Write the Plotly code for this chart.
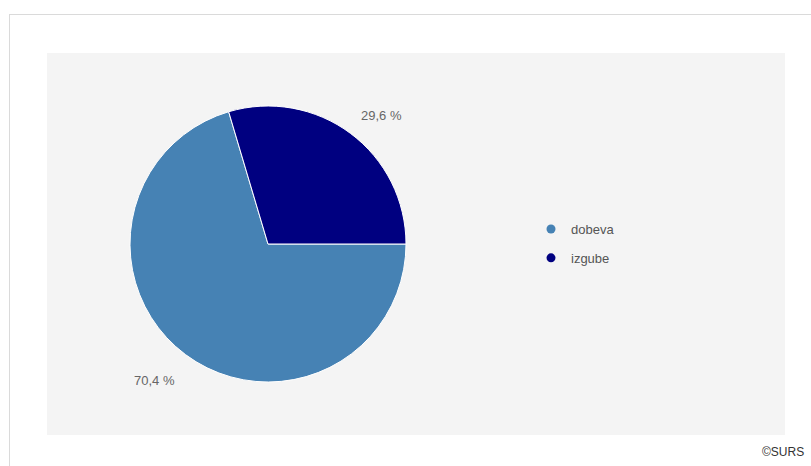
import math
import plotly.graph_objects as go

W, H = 811, 466
labels = ["dobeva", "izgube"]
values = [70.4, 29.6]
colors = ["#4682B4", "#000080"]
texts = [f"{v:.1f}".replace(".", ",") + " %" for v in values]

FONT = "Arial, Liberation Sans, sans-serif"
cx, cy, R = 268, 244, 138

def px(x): return x / W
def py(y): return 1 - y / H

fig = go.Figure()
fig.add_trace(go.Pie(
    labels=labels, values=values, sort=False, direction="clockwise", rotation=90,
    marker=dict(colors=colors, line=dict(color="white", width=1)),
    textinfo="none", showlegend=False,
    domain=dict(x=[px(cx - R), px(cx + R)], y=[py(cy + R), py(cy - R)]),
    hoverinfo="label+percent",
))

# legend entries
for lab, col in zip(labels, colors):
    fig.add_trace(go.Scatter(x=[None], y=[None], mode="markers", name=lab, legendgroup=lab,
                             marker=dict(color=col, size=9, symbol="circle")))

# outside labels placed at slice mid-angles (clockwise from 3 o'clock)
annotations = []
total = sum(values)
start = 0.0
for v, t in zip(values, texts):
    mid = start + v / total * 360 / 2
    start += v / total * 360
    ang = math.radians(mid)
    x = cx + 190 * math.cos(ang)
    y = cy + 4 + 165 * math.sin(ang)
    annotations.append(dict(text=t, xref="paper", yref="paper", x=px(x), y=py(y),
                            xanchor="center", yanchor="middle", showarrow=False,
                            font=dict(family=FONT, size=13, color="#666666")))
annotations.append(dict(text="©SURS", xref="paper", yref="paper", x=px(806), y=py(452),
                        xanchor="right", yanchor="middle", showarrow=False,
                        font=dict(family=FONT, size=12, color="#333333")))

shapes = [
    dict(type="line", xref="paper", yref="paper", x0=px(9), x1=1, y0=py(14.5), y1=py(14.5),
         line=dict(color="#dadada", width=1)),
    dict(type="line", xref="paper", yref="paper", x0=px(9.5), x1=px(9.5), y0=0, y1=py(14),
         line=dict(color="#dadada", width=1)),
    dict(type="rect", xref="paper", yref="paper", x0=px(47), x1=px(785), y0=py(435), y1=py(53),
         fillcolor="#f4f4f4", line=dict(width=0), layer="below"),
]

fig.update_layout(
    width=W, height=H, margin=dict(l=0, r=0, t=0, b=0),
    paper_bgcolor="white", plot_bgcolor="rgba(0,0,0,0)",
    xaxis=dict(visible=False), yaxis=dict(visible=False),
    shapes=shapes, annotations=annotations,
    showlegend=True,
    legend=dict(x=px(531), y=py(214), xanchor="left", yanchor="top",
                font=dict(family=FONT, size=13, color="#555555"),
                bgcolor="rgba(0,0,0,0)", itemwidth=30, tracegroupgap=9),
)

fig.write_html("out.html")
